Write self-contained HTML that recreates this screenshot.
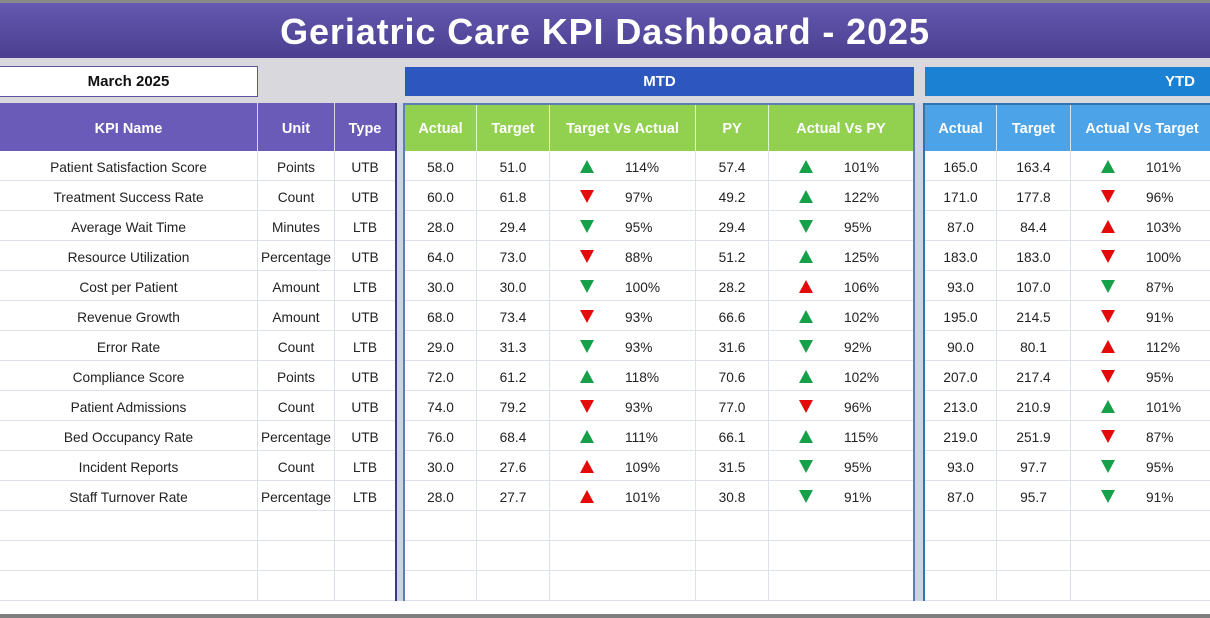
<!DOCTYPE html>
<html><head><meta charset="utf-8">
<style>
*{box-sizing:border-box;margin:0;padding:0}
html,body{width:1210px;height:618px;overflow:hidden}
body{background:#d9d9dd;font-family:"Liberation Sans",Arial,sans-serif;position:relative}
.abs{position:absolute}
#topstrip{left:0;top:0;width:1210px;height:3px;background:#8a8a8a}
#title{left:0;top:3px;width:1210px;height:55px;background:linear-gradient(#6458b0,#4a3f8f);color:#fff;font-weight:bold;font-size:36px;letter-spacing:0.9px;text-align:center;line-height:57px}
#date{left:-1px;top:66px;width:259px;height:31px;background:#fff;border:1px solid #5b54a0;text-align:center;font-weight:bold;font-size:15px;line-height:30px;color:#111}
#mtdbar{left:405px;top:67px;width:509px;height:29px;background:#2d56bf;color:#fff;font-weight:bold;font-size:15px;text-align:center;line-height:30px}
#ytdbar{left:925px;top:67px;width:285px;height:29px;background:#1b81d3;color:#fff;font-weight:bold;font-size:15px;text-align:right;padding-right:15px;line-height:30px}
#gap1{left:395px;top:103px;width:10px;height:503px;background:#cdd3e3}
#gap2{left:913px;top:103px;width:12px;height:503px;background:#cdd3e3}
#bottomwhite{left:0;top:601px;width:1210px;height:14px;background:#fff}
#bottombar{left:0;top:614px;width:1210px;height:4px;background:#7f7f7f}
.panel{position:absolute;background:#fff}
#L{left:0;top:103px;width:397px;height:498px;border-right:2px solid #3d3a7e}
#M{left:403px;top:103px;width:512px;height:498px;border-left:2px solid #5f7db5;border-right:2px solid #5f7db5;border-top:2px solid #5f7db5}
#Y{left:923px;top:103px;width:290px;height:498px;border-left:2px solid #2e75b6;border-top:2px solid #2e75b6}
.h{display:flex;color:#fff;font-weight:bold;font-size:14.5px}
#L .h{height:48px;background:#6a5bb8}
#M .h{height:46px;background:#92d050}
#Y .h{height:46px;background:#4ca3e7}
.h>div{display:flex;align-items:center;justify-content:center;border-right:1px solid rgba(255,255,255,0.75);height:100%;padding-top:4px}
#M .h>div,#Y .h>div{padding-top:2px}
.r{display:flex;height:30px;border-bottom:1px solid #dce1ea;font-size:13.7px;color:#222}
.r>div{height:29px;line-height:29px;padding-top:2px;text-align:center;border-right:1px solid #dce1ea;position:relative;white-space:nowrap}
#L .h>div:nth-child(1),#L .r>div:nth-child(1){width:258px}
#L .h>div:nth-child(2),#L .r>div:nth-child(2){width:77px}
#L .h>div:nth-child(3),#L .r>div:nth-child(3){width:60px;border-right:none}
#M .h>div:nth-child(1),#M .r>div:nth-child(1){width:72px}
#M .h>div:nth-child(2),#M .r>div:nth-child(2){width:73px}
#M .h>div:nth-child(3),#M .r>div:nth-child(3){width:146px}
#M .h>div:nth-child(4),#M .r>div:nth-child(4){width:73px}
#M .h>div:nth-child(5),#M .r>div:nth-child(5){width:144px;border-right:none}
#Y .h>div:nth-child(1),#Y .r>div:nth-child(1){width:72px}
#Y .h>div:nth-child(2),#Y .r>div:nth-child(2){width:74px}
#Y .h>div:nth-child(3),#Y .r>div:nth-child(3){width:142px;border-right:none}
.r i{position:absolute;left:30px;top:9px;width:0;height:0;border-left:7px solid transparent;border-right:7px solid transparent}
.r i.u{border-bottom:13px solid}
.r i.d{border-top:13px solid}
.r i.g{border-bottom-color:#17a04a;border-top-color:#17a04a}
.r i.x{border-bottom-color:#e30a0a;border-top-color:#e30a0a}
.r i.u.g,.r i.u.x{border-top:none}
.r i.d.g,.r i.d.x{border-bottom:none}
.r span{position:absolute;left:75px;top:2px}
</style></head><body>
<div id="topstrip" class="abs"></div>
<div id="title" class="abs">Geriatric Care KPI Dashboard - 2025</div>
<div id="date" class="abs">March 2025</div>
<div id="mtdbar" class="abs">MTD</div>
<div id="ytdbar" class="abs">YTD</div>
<div id="gap1" class="abs"></div>
<div id="gap2" class="abs"></div>
<div id="bottomwhite" class="abs"></div>
<div id="bottombar" class="abs"></div>

<div id="L" class="panel">
<div class="h"><div>KPI Name</div><div>Unit</div><div>Type</div></div>
<div class="r"><div>Patient Satisfaction Score</div><div>Points</div><div>UTB</div></div>
<div class="r"><div>Treatment Success Rate</div><div>Count</div><div>UTB</div></div>
<div class="r"><div>Average Wait Time</div><div>Minutes</div><div>LTB</div></div>
<div class="r"><div>Resource Utilization</div><div>Percentage</div><div>UTB</div></div>
<div class="r"><div>Cost per Patient</div><div>Amount</div><div>LTB</div></div>
<div class="r"><div>Revenue Growth</div><div>Amount</div><div>UTB</div></div>
<div class="r"><div>Error Rate</div><div>Count</div><div>LTB</div></div>
<div class="r"><div>Compliance Score</div><div>Points</div><div>UTB</div></div>
<div class="r"><div>Patient Admissions</div><div>Count</div><div>UTB</div></div>
<div class="r"><div>Bed Occupancy Rate</div><div>Percentage</div><div>UTB</div></div>
<div class="r"><div>Incident Reports</div><div>Count</div><div>LTB</div></div>
<div class="r"><div>Staff Turnover Rate</div><div>Percentage</div><div>LTB</div></div>
<div class="r"><div></div><div></div><div></div></div>
<div class="r"><div></div><div></div><div></div></div>
<div class="r"><div></div><div></div><div></div></div>
</div>

<div id="M" class="panel">
<div class="h"><div>Actual</div><div>Target</div><div>Target Vs Actual</div><div>PY</div><div>Actual Vs PY</div></div>
<div class="r"><div>58.0</div><div>51.0</div><div><i class="u g"></i><span>114%</span></div><div>57.4</div><div><i class="u g"></i><span>101%</span></div></div>
<div class="r"><div>60.0</div><div>61.8</div><div><i class="d x"></i><span>97%</span></div><div>49.2</div><div><i class="u g"></i><span>122%</span></div></div>
<div class="r"><div>28.0</div><div>29.4</div><div><i class="d g"></i><span>95%</span></div><div>29.4</div><div><i class="d g"></i><span>95%</span></div></div>
<div class="r"><div>64.0</div><div>73.0</div><div><i class="d x"></i><span>88%</span></div><div>51.2</div><div><i class="u g"></i><span>125%</span></div></div>
<div class="r"><div>30.0</div><div>30.0</div><div><i class="d g"></i><span>100%</span></div><div>28.2</div><div><i class="u x"></i><span>106%</span></div></div>
<div class="r"><div>68.0</div><div>73.4</div><div><i class="d x"></i><span>93%</span></div><div>66.6</div><div><i class="u g"></i><span>102%</span></div></div>
<div class="r"><div>29.0</div><div>31.3</div><div><i class="d g"></i><span>93%</span></div><div>31.6</div><div><i class="d g"></i><span>92%</span></div></div>
<div class="r"><div>72.0</div><div>61.2</div><div><i class="u g"></i><span>118%</span></div><div>70.6</div><div><i class="u g"></i><span>102%</span></div></div>
<div class="r"><div>74.0</div><div>79.2</div><div><i class="d x"></i><span>93%</span></div><div>77.0</div><div><i class="d x"></i><span>96%</span></div></div>
<div class="r"><div>76.0</div><div>68.4</div><div><i class="u g"></i><span>111%</span></div><div>66.1</div><div><i class="u g"></i><span>115%</span></div></div>
<div class="r"><div>30.0</div><div>27.6</div><div><i class="u x"></i><span>109%</span></div><div>31.5</div><div><i class="d g"></i><span>95%</span></div></div>
<div class="r"><div>28.0</div><div>27.7</div><div><i class="u x"></i><span>101%</span></div><div>30.8</div><div><i class="d g"></i><span>91%</span></div></div>
<div class="r"><div></div><div></div><div></div><div></div><div></div></div>
<div class="r"><div></div><div></div><div></div><div></div><div></div></div>
<div class="r"><div></div><div></div><div></div><div></div><div></div></div>
</div>

<div id="Y" class="panel">
<div class="h"><div>Actual</div><div>Target</div><div>Actual Vs Target</div></div>
<div class="r"><div>165.0</div><div>163.4</div><div><i class="u g"></i><span>101%</span></div></div>
<div class="r"><div>171.0</div><div>177.8</div><div><i class="d x"></i><span>96%</span></div></div>
<div class="r"><div>87.0</div><div>84.4</div><div><i class="u x"></i><span>103%</span></div></div>
<div class="r"><div>183.0</div><div>183.0</div><div><i class="d x"></i><span>100%</span></div></div>
<div class="r"><div>93.0</div><div>107.0</div><div><i class="d g"></i><span>87%</span></div></div>
<div class="r"><div>195.0</div><div>214.5</div><div><i class="d x"></i><span>91%</span></div></div>
<div class="r"><div>90.0</div><div>80.1</div><div><i class="u x"></i><span>112%</span></div></div>
<div class="r"><div>207.0</div><div>217.4</div><div><i class="d x"></i><span>95%</span></div></div>
<div class="r"><div>213.0</div><div>210.9</div><div><i class="u g"></i><span>101%</span></div></div>
<div class="r"><div>219.0</div><div>251.9</div><div><i class="d x"></i><span>87%</span></div></div>
<div class="r"><div>93.0</div><div>97.7</div><div><i class="d g"></i><span>95%</span></div></div>
<div class="r"><div>87.0</div><div>95.7</div><div><i class="d g"></i><span>91%</span></div></div>
<div class="r"><div></div><div></div><div></div></div>
<div class="r"><div></div><div></div><div></div></div>
<div class="r"><div></div><div></div><div></div></div>
</div>
</body></html>
